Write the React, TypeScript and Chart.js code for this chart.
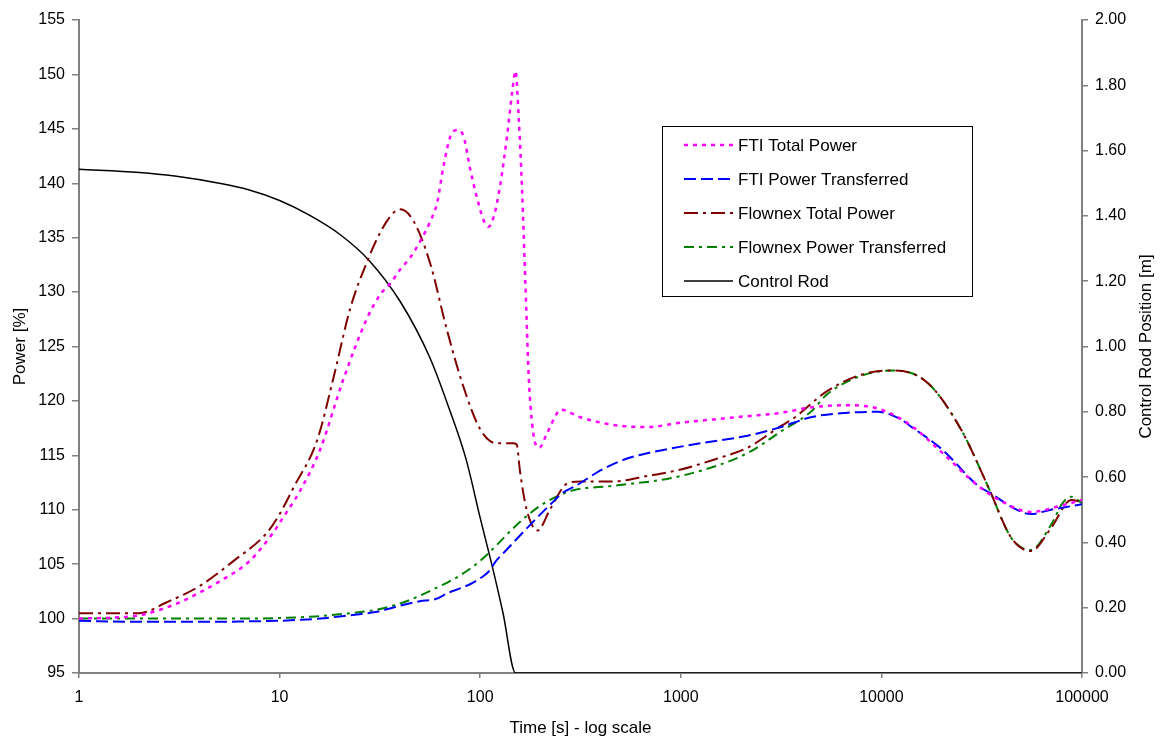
import React, { useEffect, useRef } from "react";
import { Chart, registerables } from "chart.js";

Chart.register(...registerables);

// ---- Data ----
const xTicks = [1, 10, 100, 1000, 10000, 100000];

const ftiTotalT = [1, 1.5, 2, 3, 4, 5, 7, 9.3, 10, 12.7, 15.9, 20.8, 27.3, 31.8, 35.7, 40, 44.9, 50.3, 56.4, 61, 65.8, 71, 76.6, 82.6, 89.4, 96.6, 104.5, 110, 116.7, 126, 136, 144, 150, 155.6, 161.6, 168, 174.6, 184, 197, 215, 242, 251, 316, 460, 680, 1000, 1460, 2150, 3160, 4450, 6600, 9600, 13900, 20200, 29900, 39500, 55600, 79500, 100000];
const ftiTotalP = [100.0, 100.1, 100.3, 101.3, 102.4, 103.4, 105.2, 107.9, 108.8, 111.8, 115.5, 122.0, 127.6, 129.8, 130.8, 132.1, 133.2, 134.7, 136.5, 138.2, 141.7, 144.3, 144.9, 144.3, 141.2, 138.6, 136.5, 136.0, 136.9, 139.9, 144.3, 148.2, 150.3, 146.0, 139.5, 130.8, 122.2, 117.0, 115.7, 117.0, 118.9, 119.2, 118.5, 117.8, 117.6, 118.0, 118.3, 118.6, 118.9, 119.4, 119.6, 119.3, 117.8, 115.2, 112.3, 110.8, 109.8, 110.4, 110.9];

const ftiXferT = [1, 2, 3, 5, 7, 10, 13, 16, 20, 25, 30, 35, 40, 50, 60, 70, 80, 90, 100, 110, 120, 135, 150, 175, 200, 230, 260, 300, 380, 460, 560, 680, 1000, 1460, 2150, 3160, 4450, 6600, 9600, 12500, 13900, 20200, 29900, 36500, 45000, 55600, 70000, 100000];
const ftiXferP = [99.8, 99.7, 99.7, 99.7, 99.75, 99.8, 99.9, 100.0, 100.2, 100.4, 100.6, 100.9, 101.2, 101.6, 101.8, 102.4, 102.8, 103.2, 103.7, 104.3, 105.3, 106.3, 107.2, 108.5, 109.6, 110.7, 111.6, 112.2, 113.4, 114.2, 114.8, 115.2, 115.8, 116.3, 116.8, 117.6, 118.5, 118.9, 119.0, 118.3, 117.7, 115.5, 112.3, 111.3, 110.2, 109.6, 110.0, 110.5];

const fnxTotalT = [1, 2, 2.74, 4, 5.9, 8.66, 10, 11.7, 15.4, 18.6, 22.5, 27.3, 32, 37, 40, 46.6, 56.4, 68.3, 82.5, 100, 121, 146, 152, 158, 170, 193, 224, 271, 316, 460, 680, 1000, 1460, 2150, 3160, 3650, 5360, 7900, 11500, 16900, 24900, 33900, 44500, 55600, 70000, 88500, 100000];
const fnxTotalP = [100.5, 100.5, 101.5, 103.0, 105.3, 107.9, 109.6, 112.0, 116.4, 122.2, 128.5, 132.8, 135.6, 137.3, 137.6, 136.5, 132.6, 126.5, 121.3, 117.4, 116.1, 116.1, 116.0, 113.5, 110.1, 108.1, 110.1, 112.4, 112.6, 112.6, 113.1, 113.7, 114.6, 115.7, 117.7, 118.4, 120.9, 122.4, 122.8, 121.7, 117.4, 112.2, 107.4, 106.2, 108.3, 110.9, 110.7];

const fnxXferT = [1, 5, 10, 15, 20, 30, 40, 50, 60, 70, 80, 100, 120, 146, 170, 200, 240, 292, 460, 1000, 2150, 3160, 4450, 5360, 7900, 11500, 16900, 24900, 33900, 44500, 55600, 70000, 80000, 88500, 100000];
const fnxXferP = [100.0, 100.0, 100.05, 100.2, 100.4, 100.8, 101.4, 102.1, 102.8, 103.4, 104.0, 105.3, 106.7, 108.3, 109.4, 110.4, 111.2, 111.8, 112.2, 113.1, 115.2, 117.2, 119.0, 120.6, 122.3, 122.8, 121.7, 117.4, 112.2, 107.4, 106.3, 108.6, 110.6, 111.2, 110.6];

const rodT = [1, 2, 3, 5, 7, 10, 14, 20, 28, 40, 56, 70, 85, 100, 115, 130, 150, 100000];
const rodPos = [1.543, 1.533, 1.522, 1.5, 1.48, 1.447, 1.403, 1.343, 1.263, 1.137, 0.967, 0.81, 0.655, 0.475, 0.325, 0.183, 0.0, 0.0];

const FONT = '"Liberation Sans", Arial, sans-serif';

const pts = (t: number[], v: number[]) => t.map((x, i) => ({ x, y: v[i] }));

const boxLegend = {
  id: "boxLegend",
  afterDraw(chart: any) {
    const ctx = chart.ctx;
    ctx.save();
    ctx.fillStyle = "#ffffff";
    ctx.fillRect(663, 127, 309, 169);
    ctx.strokeStyle = "#000000";
    ctx.lineWidth = 1;
    ctx.setLineDash([]);
    ctx.strokeRect(662.5, 126.5, 310, 170);
    chart.data.datasets.forEach((ds: any, i: number) => {
      const y = 145 + i * 34;
      ctx.beginPath();
      ctx.setLineDash(ds.borderDash || []);
      ctx.strokeStyle = ds.borderColor;
      ctx.lineWidth = ds.borderWidth;
      ctx.moveTo(684, y);
      ctx.lineTo(733, y);
      ctx.stroke();
      ctx.setLineDash([]);
      ctx.fillStyle = "#000";
      ctx.font = `17px ${FONT}`;
      ctx.textAlign = "left";
      ctx.textBaseline = "middle";
      ctx.fillText(ds.label, 738, y + 1);
    });
    ctx.restore();
  },
};

const rightTitle = {
  id: "rightTitle",
  afterDraw(chart: any) {
    const ctx = chart.ctx;
    const a = chart.chartArea;
    ctx.save();
    ctx.translate(1146, (a.top + a.bottom) / 2);
    ctx.rotate(-Math.PI / 2);
    ctx.fillStyle = "#000";
    ctx.font = `17px ${FONT}`;
    ctx.textAlign = "center";
    ctx.textBaseline = "middle";
    ctx.fillText("Control Rod Position [m]", 0, 0);
    ctx.restore();
  },
};

export default function App() {
  const ref = useRef<HTMLCanvasElement>(null);

  useEffect(() => {
    if (!ref.current) return;
    Chart.defaults.font.family = FONT;
    Chart.defaults.color = "#000";
    const axisGrey = "#808080";
    const chart = new Chart(ref.current, {
      type: "line",
      data: {
        datasets: [
          {
            label: "FTI Total Power",
            data: pts(ftiTotalT, ftiTotalP),
            borderColor: "#ff00ff",
            borderWidth: 2.5,
            borderDash: [4, 5],
            yAxisID: "y",
          },
          {
            label: "FTI Power Transferred",
            data: pts(ftiXferT, ftiXferP),
            borderColor: "#0000ff",
            borderWidth: 2,
            borderDash: [12, 5],
            yAxisID: "y",
          },
          {
            label: "Flownex Total Power",
            data: pts(fnxTotalT, fnxTotalP),
            borderColor: "#800000",
            borderWidth: 2,
            borderDash: [14, 5, 3, 5],
            yAxisID: "y",
          },
          {
            label: "Flownex Power Transferred",
            data: pts(fnxXferT, fnxXferP),
            borderColor: "#008000",
            borderWidth: 2,
            borderDash: [10, 5, 3, 5],
            yAxisID: "y",
          },
          {
            label: "Control Rod",
            data: pts(rodT, rodPos),
            borderColor: "#000000",
            borderWidth: 1.5,
            yAxisID: "y2",
          },
        ] as any,
      },
      options: {
        responsive: false,
        devicePixelRatio: 1,
        animation: false,
        layout: { padding: { top: 20, left: 0, right: 0, bottom: 0 } },
        elements: {
          point: { radius: 0 },
          line: { cubicInterpolationMode: "monotone", fill: false },
        },
        plugins: {
          legend: { display: false },
          tooltip: { enabled: false },
        },
        scales: {
          x: {
            type: "logarithmic",
            min: 1,
            max: 100000,
            afterBuildTicks: (s: any) => {
              s.ticks = xTicks.map((v) => ({ value: v }));
            },
            afterFit: (s: any) => {
              s.height = 67;
            },
            ticks: {
              autoSkip: false,
              maxRotation: 0,
              padding: 10,
              font: { size: 16 },
              callback: (v: any) => String(v),
            },
            grid: {
              drawOnChartArea: false,
              drawTicks: true,
              tickLength: 5,
              color: axisGrey,
              lineWidth: 1.5,
            },
            border: { display: true, color: axisGrey, width: 2 },
            title: {
              display: true,
              text: "Time [s] - log scale",
              font: { size: 17 },
              padding: { top: 0, bottom: 1 },
            },
          },
          y: {
            type: "linear",
            position: "left",
            min: 95,
            max: 155,
            afterFit: (s: any) => {
              s.width = 79;
            },
            ticks: { stepSize: 5, padding: 7, font: { size: 16 } },
            grid: {
              drawOnChartArea: false,
              drawTicks: true,
              tickLength: 7,
              color: axisGrey,
              lineWidth: 1.5,
            },
            border: { display: true, color: axisGrey, width: 2 },
            title: {
              display: true,
              text: "Power [%]",
              font: { size: 17 },
              padding: { top: 10, bottom: 0 },
            },
          },
          y2: {
            type: "linear",
            position: "right",
            min: 0,
            max: 2,
            afterFit: (s: any) => {
              s.width = 78;
            },
            ticks: {
              stepSize: 0.2,
              padding: 7,
              font: { size: 16 },
              callback: (v: any) => Number(v).toFixed(2),
            },
            grid: {
              drawOnChartArea: false,
              drawTicks: true,
              tickLength: 6,
              color: axisGrey,
              lineWidth: 1.5,
            },
            border: { display: true, color: axisGrey, width: 2 },
          },
        },
      } as any,
      plugins: [boxLegend, rightTitle],
    });
    return () => chart.destroy();
  }, []);

  return (
    <div style={{ position: "fixed", left: 0, top: 0, width: 1160, height: 740, background: "#fff" }}>
      <canvas ref={ref} width={1160} height={740} />
    </div>
  );
}
